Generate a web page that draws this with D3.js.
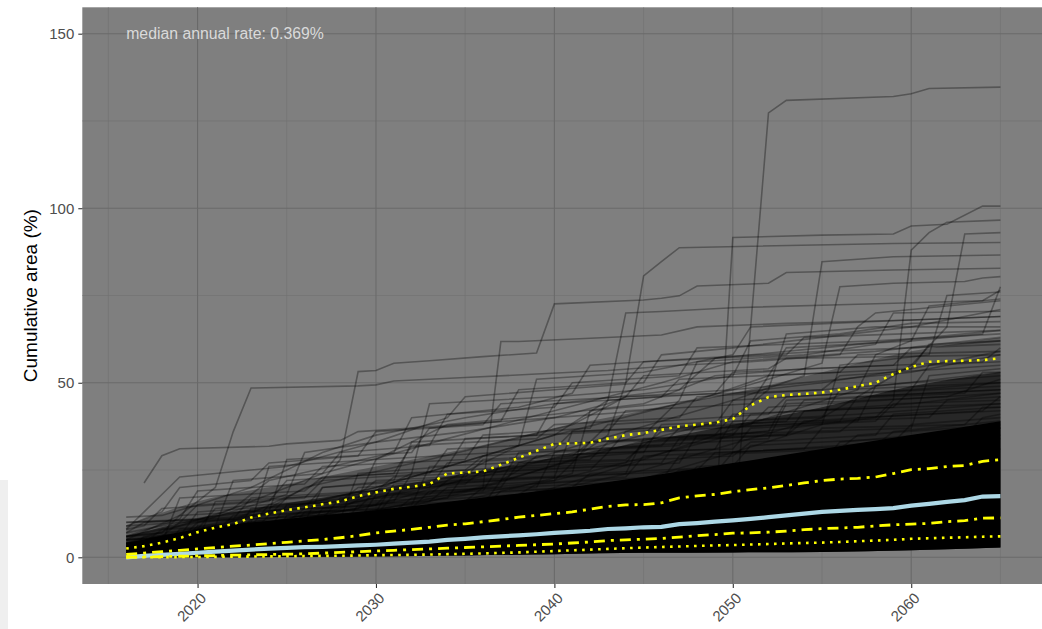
<!DOCTYPE html>
<html>
<head>
<meta charset="utf-8">
<script src="https://cdn.jsdelivr.net/npm/d3@7"></script>
<style>
  html, body { margin: 0; padding: 0; background: #ffffff; }
  svg { display: block; font-family: "Liberation Sans", Arial, sans-serif; }
</style>
</head>
<body>
<svg id="chart" width="1042" height="629"></svg>
<script>
// ---------------- data ----------------
const years = d3.range(2016, 2066);

const median = [0,0.4,0.7,1.0,1.3,1.6,1.9,2.2,2.5,2.7, 2.9,3.0,3.2,3.4,3.6,3.9,4.2,4.5,5.0,5.3,
  5.7,6.0,6.3,6.6,7.0,7.3,7.6,8.1,8.3,8.6, 8.7,9.5,9.8,10.2,10.6,11.0,11.5,12.0,12.5,13.0,
  13.3,13.6,13.8,14.1,14.8,15.3,15.9,16.4,17.4,17.5];

const q975 = [2.5,3.2,4.2,5.5,7.2,8.5,9.5,11.4,12.5,13.5, 14.3,15.2,16.0,17.5,18.6,19.6,20.2,21.0,24.0,24.3,
  24.6,26.5,28.5,30.5,32.5,32.6,32.8,34.0,35.0,35.6, 36.5,37.5,38.0,38.6,39.6,43.5,45.9,46.5,46.8,47.2,
  48.0,49.0,50.0,52.5,54.5,56.0,56.2,56.3,56.5,57.0];

const q75 = [0.8,1.2,1.6,2.0,2.4,2.8,3.2,3.5,3.9,4.3, 4.7,5.1,5.6,6.2,7.0,7.5,8.0,8.6,9.2,9.6,
  10.2,10.8,11.5,12.0,12.5,13.0,13.8,14.6,15.0,15.1, 15.6,17.0,17.6,18.0,18.8,19.4,19.9,20.6,21.3,22.0,
  22.4,22.6,23.0,24.0,25.1,25.4,26.0,26.3,27.5,28.0];

const q25 = [0,0.1,0.2,0.3,0.4,0.5,0.6,0.7,0.8,0.9, 1.0,1.2,1.4,1.6,1.8,2.0,2.2,2.4,2.6,2.8,
  3.0,3.2,3.4,3.6,3.8,4.1,4.4,4.8,5.0,5.2, 5.4,5.8,6.2,6.5,6.9,7.0,7.2,7.5,7.9,8.2,
  8.4,8.6,9.0,9.3,9.5,9.7,10.2,10.5,11.2,11.3];

const q025 = [0,0.02,0.04,0.06,0.1,0.12,0.16,0.2,0.25,0.3, 0.35,0.4,0.45,0.5,0.6,0.65,0.7,0.8,0.9,1.0,
  1.1,1.25,1.4,1.6,1.8,2.0,2.2,2.4,2.6,2.8, 2.95,3.1,3.25,3.4,3.5,3.65,3.8,3.95,4.1,4.2,
  4.4,4.6,4.8,5.0,5.3,5.45,5.6,5.75,5.9,6.0];

// envelope of the dense mass of simulations
const bandYears = [2016,2020,2025,2030,2035,2040,2045,2050,2055,2060,2065];
const bandMin   = [0,0,0.05,0.2,0.5,0.9,1.3,1.4,1.5,2.0,2.8];
const bandCore  = [4,8,11,13.5,16.5,19.5,23,27,31,35,39];
const bandDark  = [6,11,15.5,19.5,24,28.5,33,38,43,49,53];
const bandFade  = [9,16,21,26,31,37,42,47,53,59,63];

// individual simulation paths visible outside the dense mass: [year, value] points
const highPaths = [
  [[2016,0.5],[2035,2],[2050,4],[2051,66],[2052,127.3],[2053,130.9],[2059,132],[2060,132.8],[2061,134.3],[2065,134.7]],
  [[2016,1],[2025,3],[2035,6],[2049,9],[2050,91.6],[2055,92.3],[2059,92.6],[2060,94.9],[2062,95.4],[2064,100.6],[2065,100.6]],
  [[2016,2],[2022,6],[2030,12],[2036,20],[2041,28],[2043,35],[2044,50],[2045,80.6],[2046,84.7],[2047,88.7],[2059,89.9],[2065,90.2]],
  [[2016,3],[2028,12],[2040,22],[2050,35],[2058,40],[2059,45],[2060,88],[2061,93],[2062,96],[2065,96.6]],
  [[2016,1],[2030,8],[2045,25],[2055,40],[2060,55],[2062,66],[2063,92.6],[2065,93]],
  [[2016,2],[2030,15],[2040,30],[2050,45],[2054,52],[2055,84.7],[2059,86.1],[2065,86.6]],
  [[2016,3],[2020,6],[2024,15],[2027,22],[2028,28],[2029,53.2],[2030,53.5],[2031,55.6],[2033,56.3],[2036,57.5],[2039,58.5],[2040,72.6],[2045,73.7],[2046,74.2],[2047,74.9],[2048,77.7],[2052,78.5],[2053,81.6],[2059,82.3],[2065,82.8]],
  [[2016,4],[2030,20],[2040,35],[2050,48],[2055,55.6],[2056,77.5],[2059,78.5],[2063,79],[2064,80],[2065,80.4]],
  [[2016,5],[2019,12],[2021,20],[2022,36],[2023,48.5],[2029,49.1],[2030,49.4],[2031,50.5],[2035,51.5],[2039,52.5],[2043,53.5],[2047,55],[2051,56],[2056,58],[2057,66],[2058,70],[2062,72],[2065,73.5]],
  [[2017,21.3],[2018,29.1],[2019,31.1],[2024,31.8],[2025,32.5],[2028,33.5],[2029,36],[2032,37],[2036,38.5],[2040,40],[2043,44],[2044,46],[2050,47],[2055,48],[2060,50],[2065,52]],
  [[2016,2],[2030,15],[2036,20],[2037,61.8],[2038,61.8],[2046,63.7],[2048,66],[2053,67],[2060,68],[2065,69]],
  [[2016,3],[2030,20],[2040,35],[2043,45],[2044,70],[2046,70.4],[2050,71.5],[2057,72.5],[2064,73.5],[2065,76.5]],
  [[2016,1],[2035,12],[2045,28],[2052,40],[2057,48],[2058,58],[2060,62],[2064,64],[2065,77.5]],
  [[2016,6],[2020,10],[2025,18],[2026,30],[2030,33],[2034,40],[2035,46],[2040,48],[2045,50],[2046,58],[2050,60],[2055,63],[2060,66],[2065,71]],
  [[2016,2],[2028,14],[2032,24],[2033,44],[2040,46],[2045,48],[2050,52],[2051,62],[2056,64],[2060,67],[2065,67.5]],
  [[2016,11.5],[2018,12],[2020,15],[2023,20],[2025,25],[2027,30],[2030,35],[2035,40],[2040,44],[2047,48],[2049,57],[2055,60],[2061,63],[2065,65]],
  [[2016,1],[2030,10],[2041,24],[2042,42],[2048,45],[2052,52],[2053,60],[2060,62],[2061,72],[2065,74]],
  [[2016,3],[2035,22],[2045,35],[2047,45],[2048,56],[2054,58],[2058,61],[2059,70],[2065,70.5]],
  [[2016,0],[2040,15],[2050,30],[2055,38],[2056,55],[2061,58],[2062,75],[2065,76]],
  [[2016,4],[2022,14],[2024,22],[2031,30],[2032,40],[2038,43],[2041,47],[2042,55],[2048,57],[2055,59],[2065,61]],
  [[2016,7],[2021,12],[2027,24],[2034,34],[2040,42],[2046,50],[2050,56],[2058,59],[2065,63]],
  [[2016,10],[2020,11],[2024,14],[2026,20],[2033,28],[2041,38],[2044,46],[2050,48],[2060,53],[2065,58]],
  [[2016,2],[2025,11],[2034,22],[2038,32],[2039,51],[2045,53],[2050,58],[2051,66],[2060,68],[2065,69]],
  [[2016,1],[2026,9],[2035,19],[2044,32],[2050,40],[2052,48],[2053,64],[2058,66],[2065,66]],
  [[2016,8],[2018,18],[2019,23],[2021,24],[2025,26],[2030,33],[2035,36],[2040,40],[2045,42],[2050,47],[2055,50],[2060,54],[2065,59]],
  [[2016,2],[2023,10],[2024,26],[2030,28],[2034,38],[2040,41],[2045,44],[2049,52],[2054,54],[2064,56],[2065,60]],
  [[2016,4],[2021,9],[2022,22],[2027,24],[2028,30],[2033,32],[2034,41],[2040,43],[2041,50],[2047,52],[2048,60],[2058,62],[2065,64]],
  [[2016,3],[2024,13],[2025,28],[2032,30],[2033,37],[2037,39],[2038,48],[2044,50],[2045,56],[2053,58],[2054,63],[2065,65]],
  [[2016,6],[2019,11],[2020,19],[2026,21],[2027,26],[2035,28],[2036,35],[2042,37],[2043,45],[2049,47],[2050,53],[2059,55],[2060,60],[2065,62]],
  [[2016,2],[2026,10],[2027,20],[2031,22],[2032,33],[2039,35],[2040,44],[2046,46],[2047,51],[2056,53],[2057,58],[2065,59]],
  [[2016,9],[2018,13],[2019,20],[2023,22],[2024,27],[2029,29],[2030,36],[2036,38],[2037,44],[2044,46],[2045,52],[2052,54],[2053,57],[2065,58]],
  [[2016,1],[2028,11],[2029,24],[2034,26],[2035,34],[2043,36],[2044,42],[2051,44],[2052,52],[2060,54],[2061,61],[2065,62]]
];

const midPaths = [
  [[2016,2],[2019,3],[2020,9],[2027,11],[2028,17],[2036,19],[2037,27],[2045,30],[2046,38],[2055,40],[2056,48],[2065,50]],
  [[2016,4],[2022,6],[2023,14],[2031,16],[2032,24],[2041,27],[2042,33],[2050,35],[2051,41],[2060,44],[2065,47]],
  [[2016,1],[2017,6],[2024,8],[2025,15],[2033,18],[2034,22],[2044,24],[2045,34],[2052,36],[2053,45],[2065,48]],
  [[2016,6],[2018,7],[2019,12],[2026,14],[2027,20],[2035,23],[2036,28],[2043,30],[2044,36],[2057,39],[2058,49],[2065,53]],
  [[2016,0],[2021,2],[2022,10],[2030,12],[2031,18],[2039,20],[2040,30],[2047,32],[2048,38],[2061,40],[2062,45],[2065,46]],
  [[2016,3],[2020,5],[2021,16],[2029,18],[2030,22],[2042,25],[2043,30],[2050,31],[2051,37],[2058,39],[2059,44],[2065,45]],
  [[2016,2],[2024,4],[2025,12],[2032,15],[2033,26],[2042,28],[2043,33],[2053,35],[2054,42],[2065,44]],
  [[2016,5],[2019,6],[2020,13],[2028,16],[2029,20],[2037,22],[2038,25],[2046,27],[2047,34],[2056,36],[2057,40],[2065,42]],
  [[2016,1],[2018,2],[2019,8],[2023,9],[2024,15],[2034,17],[2035,24],[2047,27],[2048,35],[2060,37],[2061,52],[2065,54]],
  [[2016,7],[2017,10],[2024,12],[2025,17],[2030,19],[2031,23],[2038,25],[2039,29],[2049,31],[2050,39],[2057,41],[2065,44]],
  [[2016,2],[2026,6],[2027,14],[2035,16],[2036,20],[2044,23],[2045,29],[2054,31],[2055,37],[2063,38],[2064,43],[2065,43]],
  [[2016,3],[2022,5],[2023,11],[2030,13],[2031,21],[2040,23],[2041,36],[2051,38],[2052,43],[2065,47]],
  [[2016,0],[2017,3],[2028,8],[2029,15],[2038,18],[2039,21],[2049,24],[2050,30],[2059,33],[2060,38],[2065,40]],
  [[2016,9],[2019,10],[2020,15],[2026,17],[2027,22],[2033,24],[2034,31],[2042,33],[2043,38],[2052,41],[2053,46],[2065,49]],
  [[2016,4],[2021,7],[2022,12],[2032,14],[2033,19],[2046,22],[2047,29],[2056,31],[2057,35],[2065,38]],
  [[2016,1],[2023,3],[2024,9],[2029,10],[2030,18],[2037,20],[2038,27],[2044,28],[2045,32],[2052,34],[2053,44],[2062,46],[2065,51]],
  [[2016,5],[2018,6],[2019,10],[2031,13],[2032,17],[2041,20],[2042,24],[2050,26],[2051,32],[2063,35],[2064,40],[2065,41]],
  [[2016,2],[2027,5],[2028,12],[2036,14],[2037,19],[2046,21],[2047,25],[2055,27],[2056,33],[2065,37]],
  [[2016,3],[2019,5],[2020,10],[2022,11],[2023,17],[2033,20],[2034,27],[2041,29],[2042,33],[2049,35],[2050,41],[2059,43],[2060,48],[2065,50]],
  [[2016,1],[2021,2],[2022,7],[2034,10],[2035,15],[2043,17],[2044,21],[2052,23],[2053,29],[2061,31],[2062,36],[2065,37]],
  [[2016,6],[2020,8],[2021,14],[2029,17],[2030,28],[2040,31],[2041,36],[2049,38],[2050,45],[2060,48],[2061,55],[2065,56]],
  [[2016,2],[2018,4],[2019,17],[2026,19],[2027,23],[2035,25],[2036,29],[2045,32],[2046,36],[2056,39],[2057,46],[2065,48]],
  [[2016,4],[2025,7],[2026,13],[2036,15],[2037,22],[2048,25],[2049,30],[2058,32],[2059,36],[2065,39]],
  [[2016,0],[2019,1],[2020,6],[2027,8],[2028,12],[2039,14],[2040,18],[2051,21],[2052,27],[2062,29],[2063,34],[2065,35]],
  [[2016,8],[2017,9],[2018,14],[2024,16],[2025,22],[2031,24],[2032,32],[2039,34],[2040,38],[2047,40],[2048,46],[2055,48],[2056,52],[2065,55]],
  [[2016,3],[2029,7],[2030,12],[2038,14],[2039,19],[2047,21],[2048,26],[2057,28],[2058,32],[2065,34]],
  [[2016,1],[2020,3],[2021,9],[2031,11],[2032,14],[2042,16],[2043,20],[2053,22],[2054,28],[2065,31]],
  [[2016,5],[2023,7],[2024,12],[2029,14],[2030,19],[2035,21],[2036,25],[2044,27],[2045,33],[2053,35],[2054,39],[2064,42],[2065,46]],
  [[2016,2],[2017,4],[2018,8],[2025,10],[2026,14],[2033,16],[2034,20],[2040,22],[2041,27],[2050,29],[2051,33],[2058,35],[2059,41],[2065,43]],
  [[2016,10],[2022,11],[2023,13],[2030,15],[2031,20],[2037,22],[2038,30],[2046,32],[2047,37],[2053,39],[2054,45],[2063,47],[2064,53],[2065,53]]
];

const xTicks = [2020, 2030, 2040, 2050, 2060];
const xMinor = [2015, 2025, 2035, 2045, 2055, 2065];
const yTicks = [0, 50, 100, 150];
const yMinor = [25, 75, 125];
const annotation = "median annual rate: 0.369%";
const yTitle = "Cumulative area (%)";

// ---------------- layout ----------------
const W = 1042, H = 629;
const P = { left: 82.3, right: 1042, top: 7.3, bottom: 584 };

const svg = d3.select("#chart");
const x = d3.scaleLinear().domain([2013.54, 2067.33]).range([P.left, P.right]);
const y = d3.scaleLinear().domain([-7.65, 157.56]).range([P.bottom, P.top]);

// faint artifact strip at bottom-left of the reference
svg.append("rect").attr("x", 0).attr("y", 480).attr("width", 8).attr("height", 149).attr("fill", "#efefef");

// panel
svg.append("rect").attr("x", P.left).attr("y", P.top)
  .attr("width", P.right - P.left).attr("height", P.bottom - P.top).attr("fill", "#7f7f7f");

svg.append("defs").append("clipPath").attr("id", "clip")
  .append("rect").attr("x", P.left).attr("y", P.top)
  .attr("width", P.right - P.left).attr("height", P.bottom - P.top);

const grid = svg.append("g");
grid.selectAll(".xm").data(xMinor).join("line")
  .attr("x1", d => x(d)).attr("x2", d => x(d)).attr("y1", P.top).attr("y2", P.bottom)
  .attr("stroke", "#717171").attr("stroke-width", 0.6);
grid.selectAll(".ym").data(yMinor).join("line")
  .attr("y1", d => y(d)).attr("y2", d => y(d)).attr("x1", P.left).attr("x2", P.right)
  .attr("stroke", "#717171").attr("stroke-width", 0.6);
grid.selectAll(".xM").data(xTicks).join("line")
  .attr("x1", d => x(d)).attr("x2", d => x(d)).attr("y1", P.top).attr("y2", P.bottom)
  .attr("stroke", "#6a6a6a").attr("stroke-width", 1.1);
grid.selectAll(".yM").data(yTicks).join("line")
  .attr("y1", d => y(d)).attr("y2", d => y(d)).attr("x1", P.left).attr("x2", P.right)
  .attr("stroke", "#6a6a6a").attr("stroke-width", 1.1);

const plot = svg.append("g").attr("clip-path", "url(#clip)");

// dense simulation mass
function band(upper, opacity) {
  const pts = bandYears.map((yr, i) => ({ yr, lo: bandMin[i], hi: upper[i] }));
  plot.append("path").datum(pts)
    .attr("d", d3.area().x(d => x(d.yr)).y0(d => y(d.lo)).y1(d => y(d.hi)).curve(d3.curveMonotoneX))
    .attr("fill", "#000").attr("fill-opacity", opacity);
}
band(bandFade, 0.3);
band(bandDark, 0.55);
band(bandCore, 1);

const simLine = d3.line().x(d => x(d[0])).y(d => y(d[1]));
plot.append("g").selectAll("path").data(midPaths).join("path")
  .attr("d", simLine).attr("fill", "none").attr("stroke", "#000")
  .attr("stroke-opacity", 0.33).attr("stroke-width", 1.6);
plot.append("g").selectAll("path").data(highPaths).join("path")
  .attr("d", simLine).attr("fill", "none").attr("stroke", "#000")
  .attr("stroke-opacity", 0.33).attr("stroke-width", 1.6);

// quantile lines
const qLine = d3.line().x((d, i) => x(years[i])).y(d => y(d));
plot.append("path").datum(median).attr("d", qLine).attr("fill", "none")
  .attr("stroke", "#add8e6").attr("stroke-width", 4.2);
[q25, q75].forEach(q => {
  plot.append("path").datum(q).attr("d", qLine).attr("fill", "none")
    .attr("stroke", "#ffff00").attr("stroke-width", 2.8)
    .attr("stroke-dasharray", "11,6,3,6");
});
[q025, q975].forEach(q => {
  plot.append("path").datum(q).attr("d", qLine).attr("fill", "none")
    .attr("stroke", "#ffff00").attr("stroke-width", 2.6)
    .attr("stroke-dasharray", "2.6,5.4");
});

// annotation
svg.append("text").attr("x", x(2016)).attr("y", y(150))
  .attr("dy", "0.36em").attr("font-size", 15.8).attr("fill", "#dadada")
  .text(annotation);

// axes
const yAxis = d3.axisLeft(y).tickValues(yTicks).tickSize(4).tickPadding(4);
const gy = svg.append("g").attr("transform", `translate(${P.left},0)`).call(yAxis);
gy.select(".domain").remove();
gy.selectAll(".tick line").attr("stroke", "#333333").attr("stroke-width", 1.1);
gy.selectAll(".tick text").attr("font-size", 15).attr("fill", "#4d4d4d")
  .attr("font-family", "Liberation Sans, Arial, sans-serif");

const xAxis = d3.axisBottom(x).tickValues(xTicks).tickSize(4).tickFormat(d3.format("d"));
const gx = svg.append("g").attr("transform", `translate(0,${P.bottom})`).call(xAxis);
gx.select(".domain").remove();
gx.selectAll(".tick line").attr("stroke", "#333333").attr("stroke-width", 1.1);
gx.selectAll(".tick text")
  .attr("font-size", 15).attr("fill", "#4d4d4d")
  .attr("font-family", "Liberation Sans, Arial, sans-serif")
  .attr("text-anchor", "end").attr("dy", null).attr("y", null)
  .attr("transform", "translate(9,15) rotate(-45)");

svg.append("text")
  .attr("transform", `translate(37,${(P.top + P.bottom) / 2}) rotate(-90)`)
  .attr("text-anchor", "middle").attr("font-size", 19).attr("fill", "#000")
  .text(yTitle);
</script>
</body>
</html>
